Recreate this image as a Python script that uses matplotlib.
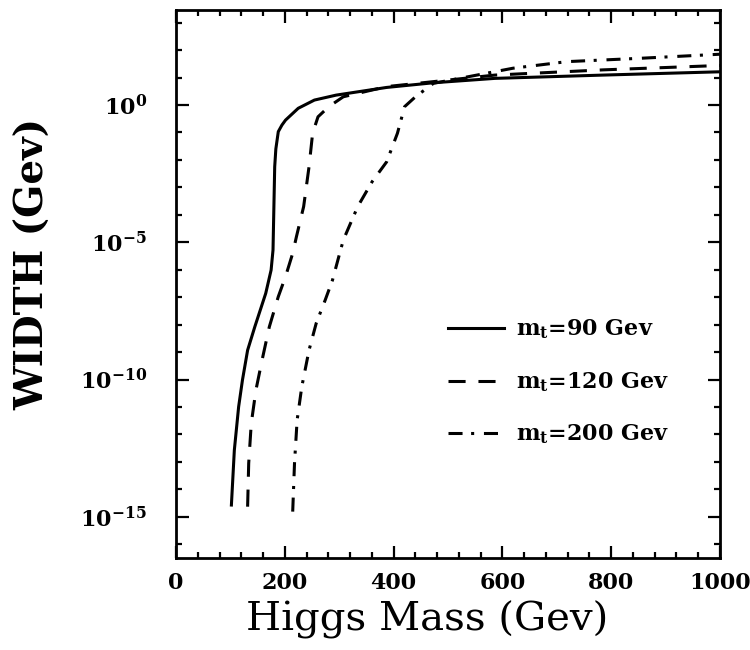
import numpy as np
import matplotlib
matplotlib.use("Agg")
import matplotlib.pyplot as plt
from matplotlib.ticker import FixedLocator, FuncFormatter, MultipleLocator

plt.rcParams["font.family"] = ["DejaVu Serif"]
plt.rcParams["mathtext.fontset"] = "custom"
plt.rcParams["mathtext.rm"] = "DejaVu Serif"
plt.rcParams["mathtext.bf"] = "DejaVu Serif:bold"
plt.rcParams["mathtext.it"] = "DejaVu Serif:italic"

# ===== Data (widths stored as log10 of GeV) =====
mass_90 = [101.8, 107.2, 115.1, 122.1, 131.6, 144.8, 164.9, 174.8, 178.3, 181.4,
           183.5, 188.0, 194.7, 201.3, 224.6, 254.4, 294.3, 387.2, 473.3, 586.2,
           785.3, 1000.0]
logw_90 = [-14.57, -12.57, -10.99, -10.02, -8.93, -8.08, -6.86, -6.01, -5.28, -2.25,
           -1.60, -0.97, -0.73, -0.55, -0.12, 0.18, 0.36, 0.64, 0.81, 0.97,
           1.09, 1.21]

mass_120 = [131.6, 133.6, 138.3, 146.9, 158.2, 171.5, 188.0, 201.3, 214.5, 221.3,
            234.6, 244.5, 251.1, 261.0, 280.9, 307.5, 387.2, 586.2, 785.3, 1000.0]
logw_120 = [-14.63, -13.05, -11.60, -10.38, -9.29, -8.08, -6.98, -6.25, -5.40, -4.80,
            -3.70, -2.25, -1.03, -0.43, -0.06, 0.30, 0.67, 1.09, 1.28, 1.44]

mass_200 = [214.5, 217.8, 222.6, 231.2, 244.5, 257.7, 274.3, 287.6, 300.9, 307.5, 334.0,
            360.6, 387.2, 407.0, 420.2, 440.2, 473.3, 553.1, 619.5, 718.9, 851.7, 1000.0]
logw_200 = [-14.81, -13.05, -11.48, -10.26, -8.93, -7.95, -7.10, -6.38, -5.40, -4.92, -3.70,
            -2.79, -2.07, -1.03, -0.06, 0.30, 0.79, 1.09, 1.34, 1.58, 1.70, 1.85]

labels = [r"$\mathbf{m_t}$=90 Gev", r"$\mathbf{m_t}$=120 Gev", r"$\mathbf{m_t}$=200 Gev"]
x_ticks = [0, 200, 400, 600, 800, 1000]
y_major_exp = [0, -5, -10, -15]
# =====================================================================

fig = plt.figure(figsize=(7.5, 6.5), dpi=100)
ax = fig.add_axes([0.2347, 0.1415, 0.7253, 0.8431])

lw = 2.2
ax.plot(mass_90, 10.0 ** np.array(logw_90), color="black", lw=lw, label=labels[0])
ax.plot(mass_120, 10.0 ** np.array(logw_120), color="black", lw=lw,
        dashes=(5.6, 4.2), label=labels[1])
ax.plot(mass_200, 10.0 ** np.array(logw_200), color="black", lw=lw,
        dashes=(4.6, 2.8, 1.0, 3.2), label=labels[2])

ax.set_yscale("log")
ax.set_xlim(0, 1000)
ax.set_ylim(10 ** -16.5, 10 ** 3.46)

ax.xaxis.set_major_locator(FixedLocator(x_ticks))
ax.xaxis.set_minor_locator(MultipleLocator(40))
ax.yaxis.set_major_locator(FixedLocator([10.0 ** e for e in y_major_exp]))
ax.yaxis.set_minor_locator(FixedLocator([10.0 ** e for e in range(-16, 4)]))
ax.yaxis.set_major_formatter(
    FuncFormatter(lambda v, p: r"$\mathbf{10^{%d}}$" % round(np.log10(v))))
ax.yaxis.set_minor_formatter(FuncFormatter(lambda v, p: ""))

ax.tick_params(which="both", direction="in", top=True, right=True, width=1.6)
ax.tick_params(which="major", length=9)
ax.tick_params(which="minor", length=4)
ax.tick_params(axis="x", which="major", pad=10, labelsize=16)
ax.tick_params(axis="y", which="major", pad=21, labelsize=16)
for t in ax.get_xticklabels():
    t.set_fontweight("bold")
for s in ax.spines.values():
    s.set_linewidth(2.0)

fig.text(0.044, 1 - 264 / 650, "WIDTH (Gev)", rotation=90, ha="center", va="center",
         fontsize=28, fontweight="bold")
fig.text(427 / 750, 1 - 620 / 650, "Higgs Mass (Gev)", ha="center", va="center",
         fontsize=29)

ax.legend(loc="center left", bbox_to_anchor=(0.5, 0.321), frameon=False,
          borderpad=0, borderaxespad=0, handlelength=2.5, handletextpad=0.55,
          labelspacing=1.3, prop={"size": 16, "weight": "bold"})

fig.savefig("out.png", dpi=100)
